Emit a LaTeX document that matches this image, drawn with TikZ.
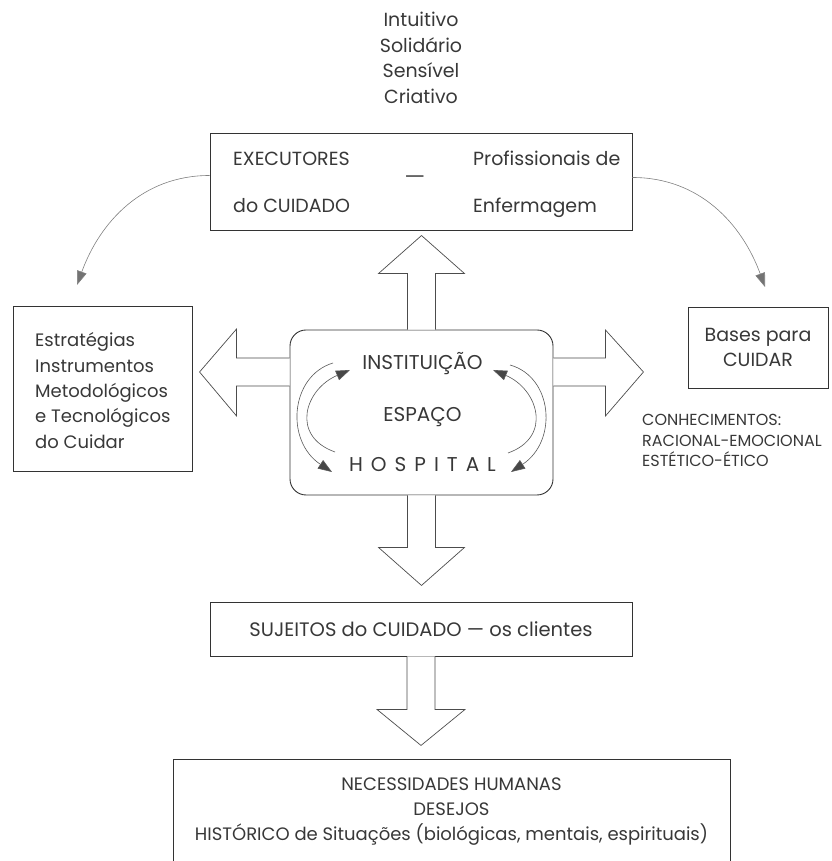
\documentclass[tikz,border=0pt]{standalone}
\usepackage{fontspec}
\setmainfont{Poppins}
\usetikzlibrary{arrows.meta,calc}
\newcommand\fsz[2]{\fontsize{#1}{#2}\selectfont}
\begin{document}
\begin{tikzpicture}[x=1pt,y=1pt,
  box/.style={draw=black!80, line width=0.9pt, fill=white, inner sep=0pt},
  blockarrow/.style={draw=black!70, line width=0.7pt, fill=white, line join=miter},
  innerarrow/.style={draw=black!65, line width=0.6pt, -{Triangle[length=14pt,width=10pt,fill=black!72]}},
  outerarrow/.style={draw=black!50, line width=0.6pt, -{Triangle[length=14pt,width=10pt,fill=black!55]}},
  txt/.style={text=black!78, inner sep=0pt},
]
\useasboundingbox (0,0) rectangle (831,861);
\clip (0,0) rectangle (831,861);

% main boxes
\node[box, minimum width=422pt, minimum height=97pt] (exec) at (421,679.5) {};
\node[box, minimum width=179pt, minimum height=165pt] (estr) at (102.5,472.5) {};
\node[box, rounded corners=16pt, minimum width=263pt, minimum height=165pt] (hosp) at (421.5,448.5) {};
\node[box, minimum width=140pt, minimum height=81pt, align=center, font=\fsz{19}{25}, text=black!78] (bases) at (758,513.5) {Bases para\\CUIDAR};
\node[box, minimum width=422pt, minimum height=54pt, font=\fsz{19.5}{19.5}, text=black!78] (suj) at (421,232) {SUJEITOS do CUIDADO — os clientes};
\node[box, minimum width=557pt, minimum height=106pt, align=center, font=\fsz{18}{25}, text=black!78] (needs) at (451.5,49) {NECESSIDADES HUMANAS\\DESEJOS\\HISTÓRICO de Situações (biológicas, mentais, espirituais)};

% block arrows
\draw[blockarrow] ([xshift=-14pt]hosp.north) -- ++(0,56) -- ++(-29,0) -- ++(43,38) -- ++(43,-38) -- ++(-29,0) -- ++(0,-56);
\draw[blockarrow] ([xshift=-14pt]hosp.south) -- ++(0,-52) -- ++(-29,0) -- ++(43,-38) -- ++(43,38) -- ++(-29,0) -- ++(0,52);
\draw[blockarrow] ($(hosp.west)+(0,54.5)$) -- ++(-53,0) -- ++(0,29) -- ++(-37,-43) -- ++(37,-44) -- ++(0,30) -- ++(53,0);
\draw[blockarrow] ($(hosp.east)+(0,54.5)$) -- ++(52,0) -- ++(0,28) -- ++(38,-42) -- ++(-38,-44) -- ++(0,30) -- ++(-52,0);
\draw[blockarrow] ([xshift=-14pt]suj.south) -- ++(0,-53) -- ++(-30,0) -- ++(44,-36) -- ++(44,36) -- ++(-30,0) -- ++(0,53);

% texts
\node[txt, align=center, font=\fsz{19}{25.5}] (traits) at (421,803) {Intuitivo\\Solidário\\Sensível\\Criativo};
\node[txt, anchor=base west, font=\fsz{19}{19}] (e1) at (233,695.3) {EXECUTORES};
\node[txt, anchor=base west, font=\fsz{19}{19}] (e2) at (233,648) {do CUIDADO};
\node[txt, anchor=base west, font=\fsz{19}{19}] (e3) at (473,695.3) {Profissionais de};
\node[txt, anchor=base west, font=\fsz{19}{19}] (e4) at (473,648) {Enfermagem};
\node[txt, font=\fsz{19}{19}] (edash) at (415,681) {\scalebox{1.25}[1]{—}};
\node[txt, anchor=west, align=left, font=\fsz{18}{25.3}] (estrtxt) at (35,470.5) {Estratégias\\Instrumentos\\Metodológicos\\e Tecnológicos\\do Cuidar};
\node[txt, anchor=base, font=\fsz{20}{20}] (inst) at (422.5,491) {INSTITUIÇÃO};
\node[txt, anchor=base, font=\fsz{20}{20}] (esp) at (422.5,439.3) {ESPAÇO};
\node[txt, anchor=base, font=\fsz{20}{20}] (hsp) at (422.5,389.3) {H\kern8pt O\kern8pt S\kern8pt P\kern8pt I\kern8pt T\kern8pt A\kern8pt L};
\node[txt, anchor=west, align=left, font=\fsz{16}{20.5}] (conh) at (642,420.5) {CONHECIMENTOS:\\RACIONAL-EMOCIONAL\\ESTÉTICO-ÉTICO};

% curved arrows inside the hospital box
\draw[innerarrow] (333,498) .. controls (290,485) and (285,420) .. (332,389);
\draw[innerarrow] (335,409) .. controls (290,425) and (305,472) .. (350,491);
\draw[innerarrow] (510,496) .. controls (553,484) and (558,420) .. (511,389);
\draw[innerarrow] (508,408) .. controls (553,424) and (538,472) .. (493,491);

% curved connectors from the executors box
\coordinate (tipL) at (77,576);
\coordinate (tipR) at (765,574);
\draw[outerarrow] ([yshift=6pt]exec.west) to[out=180,in=70] (tipL);
\draw[outerarrow] ([yshift=4pt]exec.east) to[out=0,in=110] (tipR);
\end{tikzpicture}
\end{document}
